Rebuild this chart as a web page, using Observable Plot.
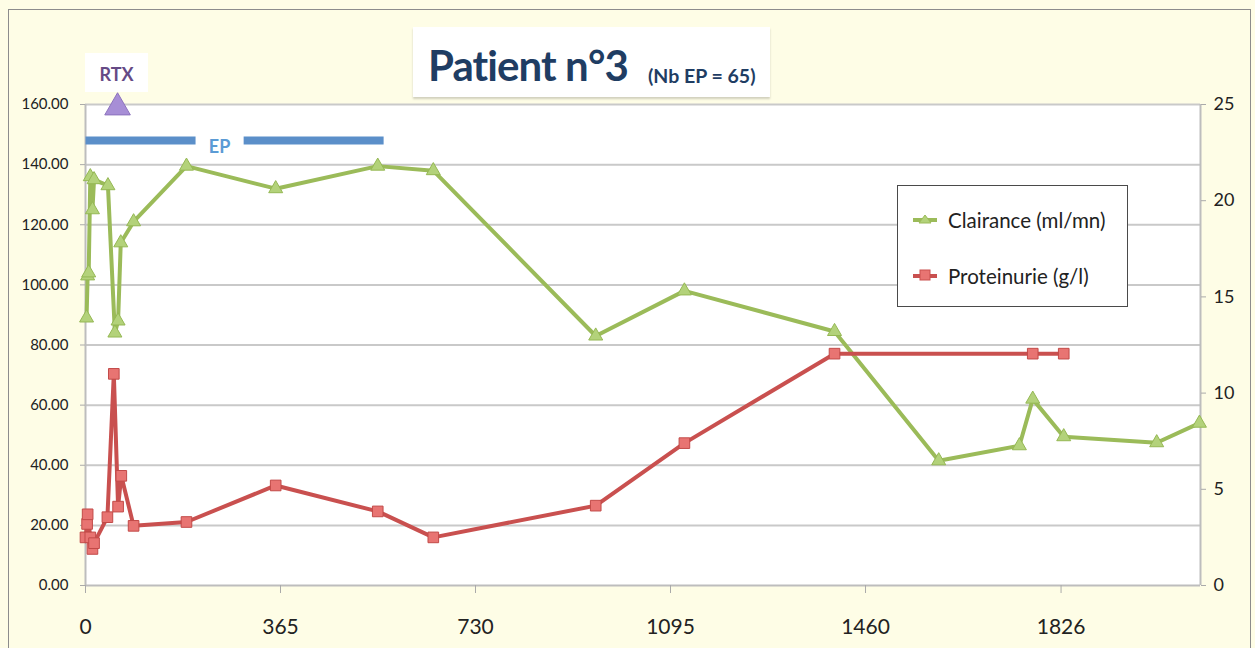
<!DOCTYPE html>
<html>
<head>
<meta charset="utf-8">
<script src="https://cdn.jsdelivr.net/npm/d3@7"></script>
<script src="https://cdn.jsdelivr.net/npm/@observablehq/plot@0.6"></script>
<style>
  body { margin: 0; background: #fefde6; }
  #wrap { position: relative; width: 1255px; height: 648px; background: #fefde6; overflow: hidden; font-family: Lato, "Open Sans", sans-serif; }
  #border { position: absolute; left: 8px; top: 9px; width: 1243px; height: 700px; border: 1px solid #8c8c8c; box-sizing: border-box; pointer-events: none; }
  #chart { position: absolute; left: 0; top: 0; }
  #title { position: absolute; left: 413px; top: 27px; width: 357px; height: 70px; background: #fff; box-shadow: 0 2px 2px rgba(0,0,0,0.18); box-sizing: border-box; white-space: nowrap; }
  #title .main { position: absolute; left: 15px; top: 13px; font-size: 42px; font-weight: 700; color: #1f3d63; letter-spacing: -0.9px; }
  #title .sub { position: absolute; left: 235px; top: 37px; font-size: 19.5px; font-weight: 700; color: #1f3d63; }
  #rtx { position: absolute; width: 63px; height: 39px; background: #fff; text-align: center; line-height: 42px; font-size: 18px; font-weight: 700; color: #654a86; }
  #legend { position: absolute; left: 897px; top: 185px; width: 231px; height: 122px; background: #fff; border: 1.5px solid #4a4a4a; box-sizing: border-box; }
  #legend .item { position: absolute; left: 15px; display: flex; align-items: center; font-size: 20.5px; color: #222; }
  #legend svg { margin-right: 11px; }
</style>
</head>
<body>
<div id="wrap">
  <div id="chart"></div>
  <div id="title"><span class="main">Patient n°3</span><span class="sub">(Nb EP = 65)</span></div>
  <div id="rtx">RTX</div>
  <div id="legend"></div>
  <div id="border"></div>
</div>
<script>
// ---- data ----
const clairanceDays   = [2, 4, 6, 9, 13, 16, 42, 55, 61, 66, 90, 189, 356, 547, 651, 955, 1121, 1402, 1597, 1748, 1773, 1831, 2005, 2085];
const clairanceValues = [89, 103, 104, 136, 125, 135, 133, 84, 88, 114, 121, 139.5, 132, 139.5, 138, 83, 98, 84.5, 41.5, 46.5, 62, 49.5, 47.5, 54];

const proteinDays   = [0, 3, 4, 9, 13, 16, 41, 53, 61, 67, 90, 189, 356, 547, 651, 955, 1121, 1402, 1773, 1831];
const proteinValues = [2.5, 3.2, 3.7, 2.5, 1.9, 2.2, 3.55, 11.0, 4.1, 5.7, 3.1, 3.3, 5.2, 3.85, 2.5, 4.15, 7.4, 12.05, 12.05, 12.05];

const xTicks = [0, 365, 730, 1095, 1460, 1826];
const xDomain = [0, 2087];
const leftTicks = [0, 20, 40, 60, 80, 100, 120, 140, 160];
const rightTicks = [0, 5, 10, 15, 20, 25];
const leftMax = 160, rightMax = 25;

const epSegments = [{start: 0, end: 206}, {start: 296, end: 558}];
const epLevel = 148;
const epLabel = {day: 251, text: "EP"};
const rtx = {day: 60, level: 159, text: "RTX"};

const series = [
  {name: "Clairance (ml/mn)", color: "#9bbb59", fill: "#b3d27a", symbol: "triangle"},
  {name: "Proteinurie (g/l)", color: "#c9504f", fill: "#e87472", symbol: "square"}
];

// ---- build ----
const ratio = leftMax / rightMax;
const clair = clairanceDays.map((d, i) => ({day: d, v: clairanceValues[i]}));
const prot = proteinDays.map((d, i) => ({day: d, v: proteinValues[i] * ratio}));

const plot = Plot.plot({
  width: 1255,
  height: 648,
  marginLeft: 85,
  marginRight: 55,
  marginTop: 104,
  marginBottom: 63,
  style: {background: "transparent", fontFamily: "Lato, 'Open Sans', sans-serif", color: "#222", overflow: "visible"},
  x: {domain: xDomain},
  y: {domain: [0, leftMax]},
  marks: [
    Plot.frame({fill: "white", stroke: null}),
    Plot.gridY(leftTicks.slice(1), {stroke: "#c9c9c9", strokeWidth: 2, strokeOpacity: 1}),
    Plot.ruleX([xDomain[0], xDomain[1]], {stroke: "#bdbdbd", strokeWidth: 2}),
    Plot.ruleY([0], {stroke: "#bdbdbd", strokeWidth: 2}),
    Plot.axisY(leftTicks, {anchor: "left", tickSize: 5, tickPadding: 12, fontSize: 15, tickFormat: d3.format(".2f"), stroke: "#aaa", label: null}),
    Plot.axisY(rightTicks.map(t => t * ratio), {anchor: "right", tickSize: 5, tickPadding: 8, fontSize: 18, tickFormat: d => d3.format("d")(d / ratio), stroke: "#aaa", label: null}),
    Plot.axisX(xTicks, {anchor: "bottom", tickSize: 8, tickPadding: 26, fontSize: 21, tickFormat: d3.format("d"), stroke: "#aaa", label: null}),
    // EP bar
    Plot.link(epSegments, {x1: "start", x2: "end", y1: () => epLevel, y2: () => epLevel, stroke: "#5b8fc9", strokeWidth: 8, strokeLinecap: "butt"}),
    Plot.text([epLabel], {x: "day", y: () => epLevel, text: "text", fill: "#5b9bd5", fontSize: 18, fontWeight: "bold", dy: 7}),
    // RTX marker
    Plot.dot([rtx], {x: "day", y: "level", symbol: "triangle", r: 9.5, fill: "#a78ed6", stroke: "#8c72bd", strokeWidth: 1}),
    // series
    Plot.line(clair, {x: "day", y: "v", stroke: series[0].color, strokeWidth: 4, strokeLinejoin: "round"}),
    Plot.line(prot, {x: "day", y: "v", stroke: series[1].color, strokeWidth: 4, strokeLinejoin: "round"}),
    Plot.dot(clair, {x: "day", y: "v", symbol: "triangle", r: 5.2, fill: series[0].fill, stroke: "#95b854", strokeWidth: 1}),
    Plot.dot(prot, {x: "day", y: "v", symbol: "square", r: 6, fill: series[1].fill, stroke: "#c24a48", strokeWidth: 1})
  ]
});
document.getElementById("chart").appendChild(plot);

// RTX label box placed from the x scale
const xs = plot.scale("x");
const rtxEl = document.getElementById("rtx");
rtxEl.style.left = (xs.apply(rtx.day) - 32) + "px";
rtxEl.style.top = "53px";
rtxEl.textContent = rtx.text;

// legend
const legend = document.getElementById("legend");
series.forEach((s, i) => {
  const item = document.createElement("div");
  item.className = "item";
  item.style.top = (i === 0 ? 22 : 78) + "px";
  const marker = s.symbol === "triangle"
    ? `<polygon points="12,2 18,10 6,10" fill="${s.fill}" stroke="${s.color}"/>`
    : `<rect x="7" y="1" width="10" height="10" fill="${s.fill}" stroke="${s.color}"/>`;
  item.innerHTML = `<svg width="24" height="14"><line x1="0" y1="7" x2="24" y2="7" stroke="${s.color}" stroke-width="4"/>${marker}</svg><span>${s.name}</span>`;
  legend.appendChild(item);
});
</script>
</body>
</html>
